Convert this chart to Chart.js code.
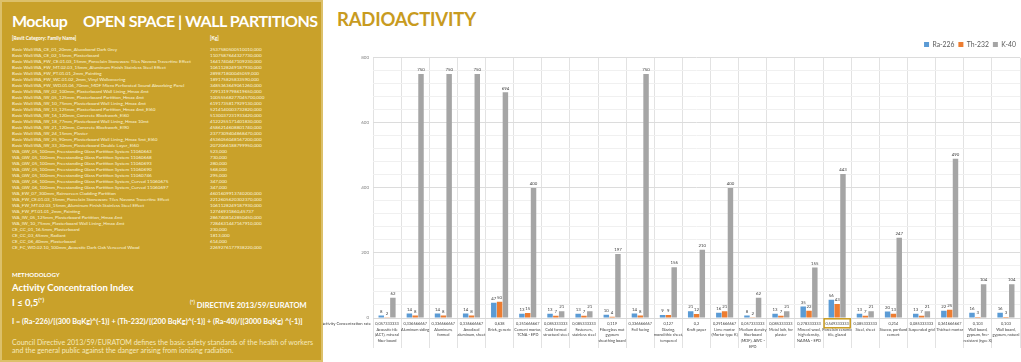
<!DOCTYPE html>
<html>
<head>
<meta charset="utf-8">
<script src="https://cdn.jsdelivr.net/npm/chart.js@4.4.1/dist/chart.umd.min.js"></script>
<style>
  html, body { margin: 0; padding: 0; width: 1021px; height: 362px; overflow: hidden; background: #fff; font-family: Lato, "Open Sans", sans-serif; }
  #panel { position: absolute; left: 0; top: 0; width: 319px; height: 358px; background: #c9a12a; border: 2px solid #dcc06a; color: #fff; z-index: 2; overflow: hidden; }
  #panel div { position: absolute; white-space: nowrap; }
  .title { font-weight: 700; font-size: 16px; line-height: 20px; top: 9px; letter-spacing: -0.5px; }
  .hdr { font-weight: 700; font-size: 4.8px; line-height: 6px; top: 33px; }
  .row { font-size: 4.6px; line-height: 6px; color: #fbf4dc; }
  #radio { position: absolute; left: 337px; top: 7px; font-weight: 700; font-size: 18.5px; line-height: 24px; color: #c89b1f; letter-spacing: -0.2px; }
  #wrap { position: absolute; left: 323px; top: 0; width: 698px; height: 362px; }
</style>
</head>
<body>
<div id="panel">
  <div class="title" style="left:10px">Mockup</div>
  <div class="title" style="left:81px">OPEN SPACE | WALL PARTITIONS</div>
  <div class="hdr" style="left:10px">[Revit Category: Family Name]</div>
  <div class="hdr" style="left:208px">[Kg]</div>
  <div id="names" style="left:10px;top:44px"></div>
  <div id="weights" style="left:208px;top:44px"></div>
  <div style="left:10px;top:269px;font-weight:700;font-size:6px;line-height:8px">METHODOLOGY</div>
  <div style="left:10px;top:280px;font-weight:700;font-size:9.5px;line-height:12px">Activity Concentration Index</div>
  <div style="left:10px;top:292px;font-weight:700;font-size:9.5px;line-height:12px">I ≤ 0,5<sup style="font-size:6px">(*)</sup></div>
  <div style="left:188px;top:295px;font-weight:700;font-size:7.5px;line-height:10px"><sup style="font-size:5px">(*)</sup> DIRECTIVE 2013/59/EURATOM</div>
  <div style="left:10px;top:315px;font-weight:700;font-size:7.35px;line-height:10px">I = (Ra-226)/[(300 BqKg)^(-1)] + (Th-232)/[(200 BqKg)^(-1)] + (Ra-40)/[(3000 BqKg) ^(-1)]</div>
  <div style="left:10px;top:336.5px;font-size:7.05px;line-height:8.7px;color:#f6e9bd">Council Directive 2013/59/EURATOM defines the basic safety standards of the health of workers<br>and the general public against the danger arising from ionising radiation.</div>
</div>
<div id="radio">RADIOACTIVITY</div>
<div id="wrap"><canvas id="chart"></canvas></div>
<script>
// left panel: model schedule
const familyNames = [
  'Basic Wall:WA_CE_01_20mm_Alucobond Dark Grey',
  'Basic Wall:WA_CE_02_15mm_Plasterboard',
  'Basic Wall:WA_FW_CE.01.03_15mm_Porcelain Stoneware Tiles Navona Travertine Effect',
  'Basic Wall:WA_FW_MT.02.03_15mm_Aluminum Finish Stainless Steel Effect',
  'Basic Wall:WA_FW_PT.01.01_2mm_Painting',
  'Basic Wall:WA_FW_WC.01.02_2mm_Vinyl Wallcovering',
  'Basic Wall:WA_FW_WD.01.06_70mm_MDF Micro Perforated Sound Absorbing Panel',
  'Basic Wall:WA_IW_02_100mm_Plasterboard Wall Lining_Hmax 4mt',
  'Basic Wall:WA_IW_05_125mm_Plasterboard Partition_Hmax 4mt',
  'Basic Wall:WA_IW_10_75mm_Plasterboard Wall Lining_Hmax 4mt',
  'Basic Wall:WA_IW_13_125mm_Plasterboard Partition_Hmax 4mt_EI60',
  'Basic Wall:WA_IW_16_120mm_Concrete Blockwork_EI60',
  'Basic Wall:WA_IW_18_77mm_Plasterboard Wall Lining_Hmax 10mt',
  'Basic Wall:WA_IW_21_120mm_Concrete Blockwork_EI90',
  'Basic Wall:WA_IW_24_15mm_Plaster',
  'Basic Wall:WA_IW_25_90mm_Plasterboard Wall Lining_Hmax 5mt_EI60',
  'Basic Wall:WA_IW_33_30mm_Plasterboard Double Layer_EI60',
  'WA_GW_05_100mm_Freestanding Glass Partition System 11060663',
  'WA_GW_05_100mm_Freestanding Glass Partition System 11060668',
  'WA_GW_05_100mm_Freestanding Glass Partition System 11060693',
  'WA_GW_05_100mm_Freestanding Glass Partition System 11060690',
  'WA_GW_05_100mm_Freestanding Glass Partition System 11060746',
  'WA_GW_06_100mm_Freestanding Glass Partition System_Curved 11060675',
  'WA_GW_06_100mm_Freestanding Glass Partition System_Curved 11060697',
  'WA_EW_07_300mm_Rainscreen Cladding Partition',
  'WA_FW_CE.01.03_15mm_Porcelain Stoneware Tiles Navona Travertine Effect',
  'WA_FW_MT.02.03_15mm_Aluminum Finish Stainless Steel Effect',
  'WA_FW_PT.01.01_2mm_Painting',
  'WA_IW_05_125mm_Plasterboard Partition_Hmax 4mt',
  'WA_IW_10_75mm_Plasterboard Wall Lining_Hmax 4mt',
  'CE_CC_01_16.5mm_Plasterboard',
  'CE_CC_03_65mm_Radiant',
  'CE_CC_06_40mm_Plasterboard',
  'CE_FC_WD.02.10_100mm_Acoustic Dark Oak Veneered Wood'
];
const familyWeights = [
  '2537580500510010,000', '1107587644327730,000', '1641740447109230,000', '1061128249187930,000',
  '289871800045059,000', '189175825833590,000', '3485363649061260,000', '7291319798619650,000',
  '10055568277045700,000', '6191735817929130,000', '5214140003732820,000', '5130037231933420,000',
  '4122255171401830,000', '4586214608801740,000', '2377309404868470,000', '4536056048167200,000',
  '2072066188799950,000', '523,000', '730,000', '280,000', '568,000', '295,000', '347,000', '347,000',
  '4601609913740200,000', '2212605620302370,000', '1061128249187930,000', '12746931860,45737',
  '2867408142850450,000', '7284631447167910,000', '230,000', '1813,000', '614,000', '2269276177938220,000'
];

// chart data
const categories = [
  ['Acoustic tile', '(ACT), mineral', 'fiber board'],
  ['Aluminum siding'],
  ['Aluminum,', 'formed'],
  ['Anodized', 'aluminum, sheet'],
  ['Brick, generic'],
  ['Cement mortar,', 'TCNA - EPD'],
  ['Cold formed', 'structural steel'],
  ['Fasteners,', 'stainless steel'],
  ['Fiberglass mat', 'gypsum', 'sheathing board'],
  ['Foil facing'],
  ['Glazing,', 'monolithic sheet,', 'tempered'],
  ['Kraft paper'],
  ['Lime mortar', '(Mortar type K)'],
  ['Medium density', 'fiberboard', '(MDF), AWC -', 'EPD'],
  ['Metal lath, for', 'plaster'],
  ['Mineral wool,', 'high density,', 'NAIMA - EPD'],
  ['Porcelain ceramic', 'tile, glazed'],
  ['Steel, sheet'],
  ['Stucco, portland', 'cement'],
  ['Suspended grid'],
  ['Thickset mortar'],
  ['Wall board,', 'gypsum, fire-', 'resistant (type X)'],
  ['Wall board,', 'gypsum, natural']
];
const aciRates = [
  '0,057333333', '0,336666667', '0,336666667', '0,336666667', '0,638', '0,251666667',
  '0,085333333', '0,085333333', '0,119', '0,336666667', '0,127', '0,2', '0,291666667',
  '0,057333333', '0,085333333', '0,278333333', '0,549333333', '0,085333333', '0,214',
  '0,085333333', '0,361666667', '0,103', '0,103'
];
const ra226 = [8, 14, 14, 14, 47, 13, 13, 13, 10, 14, 9, 21, 16, 8, 13, 35, 56, 13, 20, 13, 22, 16, 16];
const th232 = [2, 8, 8, 8, 50, 15, 7, 7, 4, 8, 9, 12, 21, 2, 7, 22, 43, 7, 13, 7, 25, 3, 3];
const k40 = [62, 750, 750, 750, 694, 400, 21, 21, 197, 750, 156, 210, 400, 62, 21, 155, 443, 21, 247, 21, 490, 104, 104];
const highlightIndex = 16;

document.getElementById('names').innerHTML = familyNames.map(n => `<span class="row" style="display:block">${n}</span>`).join('');
document.getElementById('weights').innerHTML = familyWeights.map(n => `<span class="row" style="display:block">${n}</span>`).join('');

const FONT = 'Lato, "Open Sans", sans-serif';

// values above each bar
const barValuePlugin = {
  id: 'barValues',
  afterDatasetsDraw(chart) {
    const { ctx } = chart;
    ctx.save();
    ctx.font = '4.3px ' + FONT;
    ctx.fillStyle = '#404040';
    ctx.textAlign = 'center';
    ctx.textBaseline = 'bottom';
    chart.data.datasets.forEach((ds, di) => {
      chart.getDatasetMeta(di).data.forEach((bar, i) => {
        ctx.fillText(ds.data[i], bar.x, bar.y - 2);
      });
    });
    ctx.restore();
  }
};

// data table row title + highlighted cell
const tablePlugin = {
  id: 'dataTable',
  afterDraw(chart) {
    const { ctx, chartArea } = chart;
    const x = chart.scales.x;
    ctx.save();
    ctx.font = '4.2px ' + FONT;
    ctx.fillStyle = '#404040';
    ctx.textAlign = 'right';
    ctx.textBaseline = 'middle';
    ctx.fillText('Activity Concentration rate', chartArea.left - 2, chartArea.bottom + 5.5);
    const cx = x.getPixelForValue(highlightIndex);
    const w = (x.getPixelForValue(1) - x.getPixelForValue(0)) - 2;
    ctx.strokeStyle = '#c89b1f';
    ctx.lineWidth = 1.5;
    ctx.strokeRect(cx - w / 2, chartArea.bottom + 0.8, w, 9);
    ctx.restore();
  }
};

new Chart(document.getElementById('chart'), {
  type: 'bar',
  data: {
    labels: categories.map((c, i) => [aciRates[i], ...c]),
    datasets: [
      { label: 'Ra-226', data: ra226, backgroundColor: '#5b9bd5' },
      { label: 'Th-232', data: th232, backgroundColor: '#ed7d31' },
      { label: 'K-40', data: k40, backgroundColor: '#a5a5a5' }
    ]
  },
  options: {
    responsive: true,
    maintainAspectRatio: false,
    animation: false,
    datasets: { bar: { categoryPercentage: 0.62, barPercentage: 0.94 } },
    layout: { padding: { top: 37, right: 1, left: 0, bottom: 0 } },
    scales: {
      x: {
        afterFit(scale) { scale.height = 44; },
        grid: { color: '#e2e2e2', tickLength: 30 },
        border: { color: '#d9d9d9' },
        ticks: {
          autoSkip: false, maxRotation: 0, minRotation: 0, padding: -27,
          color: '#404040', font: { family: FONT, size: 3.9, lineHeight: 1.45 }
        }
      },
      y: {
        min: 0, max: 800,
        afterFit(scale) { scale.width = 50; },
        border: { display: false },
        grid: {
          drawTicks: false,
          color: (c) => (c.tick && c.tick.value % 100 === 0 ? '#dcdcdc' : '#f0f0f0')
        },
        ticks: {
          stepSize: 20, padding: 4, color: '#7f7f7f',
          font: { family: FONT, size: 4.5 },
          callback: (v) => (v % 100 === 0 ? v : '')
        }
      }
    },
    plugins: {
      legend: {
        position: 'top', align: 'end',
        labels: { boxWidth: 5, boxHeight: 5, padding: 4, color: '#595959', font: { family: FONT, size: 6.8 } }
      },
      tooltip: { enabled: false }
    }
  },
  plugins: [barValuePlugin, tablePlugin]
});
</script>
</body>
</html>
